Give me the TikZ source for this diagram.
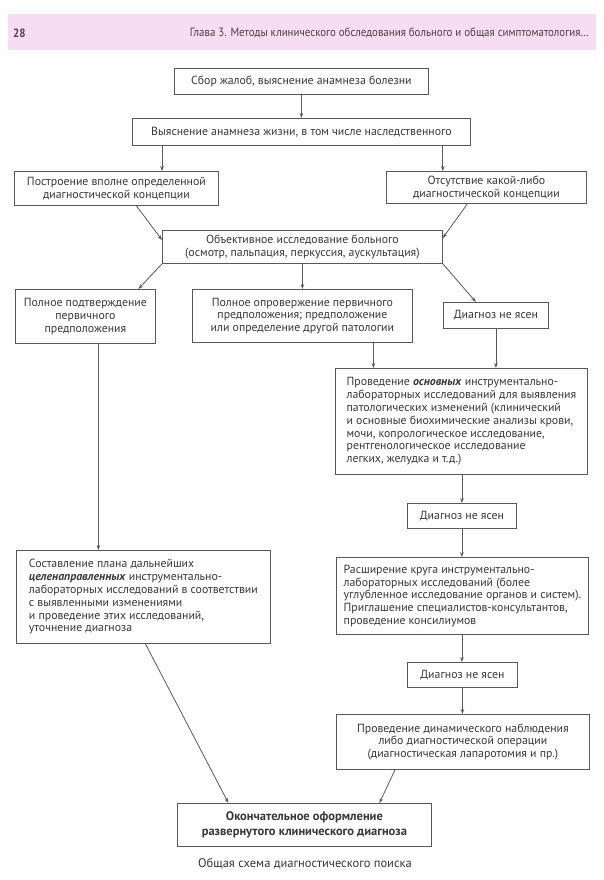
\documentclass[tikz,border=0pt]{standalone}
\usepackage{fontspec}
\setmainfont{PT Sans}
\newfontfamily\hdrfont[FakeStretch=0.91]{PT Sans}
\usetikzlibrary{arrows.meta,calc}
\definecolor{ln}{HTML}{595959}
\definecolor{tx}{HTML}{383838}
\definecolor{hdr}{HTML}{F7DDF3}
\definecolor{hdrtx}{HTML}{4A3F4A}
\begin{document}
\begin{tikzpicture}[x=1pt,y=-1pt,
  box/.style={draw=ln, line width=0.8pt, text=tx, font=\fontsize{11.8}{12.8}\selectfont,
    inner sep=2pt, anchor=north west, align=center},
  lbox/.style={box, align=left},
  arr/.style={draw=ln, line width=0.8pt, -{Stealth[length=5pt,width=3.6pt]}}]
\useasboundingbox (0,0) rectangle (604,880);
\fill[white] (0,0) rectangle (604,880);
\fill[hdr] (8,14) rectangle (596,50);
\node[anchor=west, font=\hdrfont\bfseries\fontsize{12}{14}\selectfont, text=hdrtx, inner sep=0pt] (pg) at (13,33) {28};
\node[anchor=east, font=\hdrfont\fontsize{12}{14}\selectfont, text=hdrtx, inner sep=0pt] (ht) at (589,33) {Глава 3. Методы клинического обследования больного и общая симптоматология…};

\node[box, minimum width=254pt, minimum height=26pt] (b1) at (174,68) {Сбор жалоб, выяснение анамнеза болезни};
\node[box, minimum width=338pt, minimum height=27pt] (b2) at (132,118) {Выяснение анамнеза жизни, в том числе наследственного};
\node[box, minimum width=204pt, minimum height=34pt] (b3) at (14,171) {Построение вполне определенной\\диагностической концепции};
\node[box, minimum width=200pt, minimum height=32pt] (b4) at (386,171) {Отсутствие какой-либо\\диагностической концепции};
\node[box, minimum width=280pt, minimum height=33pt] (b5) at (162,230) {Объективное исследование больного\\(осмотр, пальпация, перкуссия, аускультация)};
\node[box, minimum width=140pt, minimum height=54pt] (b6) at (15,289) {Полное подтверждение\\первичного\\предположения};
\node[box, minimum width=220pt, minimum height=53pt] (b7) at (192,289) {Полное опровержение первичного\\предположения; предположение\\или определение другой патологии};
\node[box, minimum width=105pt, minimum height=26pt] (b8) at (443,302) {Диагноз не ясен};
\node[lbox, minimum width=252pt, minimum height=106pt] (b9) at (335,368) {Проведение \textbf{\textit{основных}} инструментально-\\лабораторных исследований для выявления\\патологических изменений (клинический\\и основные биохимические анализы крови,\\мочи, копрологическое исследование,\\рентгенологическое исследование\\легких, желудка и т.д.)};
\node[lbox, minimum width=254pt, minimum height=93pt] (b10) at (16,550) {Составление плана дальнейших\\\textbf{\textit{целенаправленных}} инструментально-\\лабораторных исследований в соответствии\\с выявленными изменениями\\и проведение этих исследований,\\уточнение диагноза};
\node[box, minimum width=109pt, minimum height=25pt] (b11) at (407,503) {Диагноз не ясен};
\node[lbox, minimum width=252pt, minimum height=77pt] (b12) at (336,557) {Расширение круга инструментально-\\лабораторных исследований (более\\углубленное исследование органов и систем).\\Приглашение специалистов-консультантов,\\проведение консилиумов};
\node[box, minimum width=110pt, minimum height=25pt] (b13) at (407,662) {Диагноз не ясен};
\node[box, minimum width=253pt, minimum height=55pt] (b14) at (336,714) {Проведение динамического наблюдения\\либо диагностической операции\\(диагностическая лапаротомия и пр.)};
\node[box, minimum width=254pt, minimum height=43pt, font=\bfseries\fontsize{12.5}{14.8}\selectfont] (b15) at (177,803) {Окончательное оформление\\развернутого клинического диагноза};

\node[text=tx, font=\fontsize{12.5}{14}\selectfont, inner sep=0pt] (cap) at (305,864) {Общая схема диагностического поиска};

\draw[arr] (b1.south) -- (b1.south |- b2.north);
\draw[arr] (b2.south -| b5.west) -- (b3.north -| b5.west);
\draw[arr] (b2.south -| b5.east) -- (b4.north -| b5.east);
\draw[arr] ($(b3.south)+(20,0)$) -- ($(b5.north west)+(0,10)$);
\draw[arr] ($(b4.south)+(-19,0)$) -- ($(b5.north east)+(0,8)$);
\draw[arr] (b5.south west) -- ($(b6.north)+(53,0)$);
\draw[arr] (b5.south) -- (b5.south |- b7.north);
\draw[arr] (b5.south east) -- ($(b8.north)+(-20,0)$);
\coordinate (c7) at ($(b7.south)+(71,0)$);
\draw[arr] (c7) -- (c7 |- b9.north);
\draw[arr] (b8.south) -- (b8.south |- b9.north);
\coordinate (c6) at ($(b6.south)+(13,0)$);
\draw[arr] (c6) -- (c6 |- b10.north);
\draw[arr] (b9.south -| b11.north) -- (b11.north);
\draw[arr] (b11.south) -- (b11.south |- b12.north);
\draw[arr] (b12.south -| b11.south) -- (b11.south |- b13.north);
\draw[arr] (b13.south) -- (b13.south |- b14.north);
\draw[arr] ($(b10.south)+(2,0)$) -- ($(b15.north)+(-76,0)$);
\draw[arr] ($(b14.south west)+(59,0)$) -- ($(b15.north)+(75,0)$);
\end{tikzpicture}
\end{document}
